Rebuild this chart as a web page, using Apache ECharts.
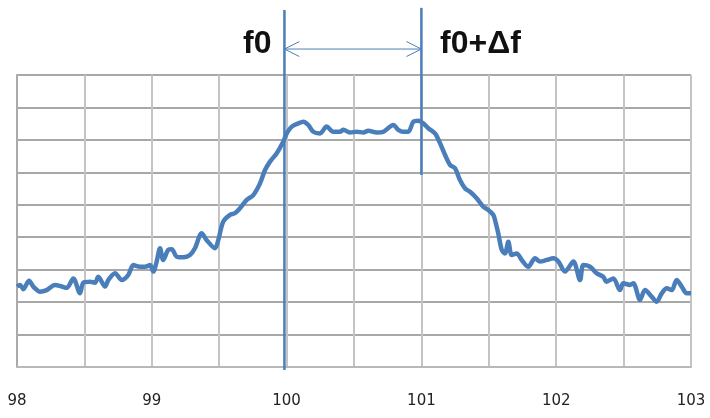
<!DOCTYPE html>
<html><head><meta charset="utf-8">
<script src="https://cdn.jsdelivr.net/npm/echarts@6/dist/echarts.min.js"></script>
<style>html,body{margin:0;padding:0;background:#fff}#c{width:710px;height:418px}</style>
</head><body><div id="c"></div>
<script>
const xTicks = [98, 99, 100, 101, 102, 103];
const freq = [98.000,98.022,98.047,98.089,98.121,98.171,98.220,98.282,98.332,98.369,98.418,98.467,98.492,98.542,98.579,98.603,98.653,98.677,98.727,98.777,98.826,98.863,98.912,
98.950,98.987,99.011,99.036,99.061,99.085,99.122,99.148,99.185,99.234,99.283,99.320,99.370,99.407,99.469,99.493,99.530,99.580,99.617,99.654,99.704,99.753,99.803,
99.840,99.877,99.927,99.976,100.001,100.038,100.087,100.124,100.161,100.198,100.248,100.297,100.346,100.396,100.421,100.470,100.520,100.569,100.606,100.668,100.717,100.792,100.829,100.866,100.903,100.940,100.977,101.014,101.051,101.101,101.138,101.175,101.212,101.249,101.286,101.323,101.361,101.410,101.459,101.496,101.533,
101.546,101.570,101.596,101.620,101.645,101.670,101.707,101.744,101.793,101.843,101.880,101.930,101.979,102.016,102.065,102.127,102.177,102.201,102.251,102.300,102.349,102.374,102.424,102.473,102.498,102.547,102.572,102.622,102.659,102.708,102.745,102.783,102.820,102.857,102.894,102.931,102.968,103.000];
const level = [2.48,2.53,2.40,2.66,2.48,2.32,2.37,2.53,2.48,2.44,2.73,2.27,2.60,2.63,2.60,2.78,2.48,2.68,2.89,2.68,2.84,3.14,3.09,
3.09,3.14,2.94,3.25,3.66,3.30,3.61,3.63,3.40,3.38,3.45,3.66,4.12,3.91,3.66,3.91,4.48,4.69,4.74,4.89,5.15,5.30,5.66,
6.07,6.33,6.59,6.95,7.20,7.41,7.51,7.56,7.46,7.25,7.20,7.41,7.25,7.25,7.31,7.23,7.25,7.23,7.28,7.23,7.25,7.46,7.31,7.25,7.25,7.56,7.59,7.51,7.36,7.20,6.90,6.54,6.23,6.13,5.76,5.51,5.40,5.20,4.94,4.84,4.69,
4.53,4.12,3.61,3.50,3.86,3.45,3.50,3.30,3.09,3.35,3.25,3.30,3.35,3.25,2.94,3.25,2.68,3.14,3.09,2.89,2.78,2.63,2.73,2.37,2.58,2.53,2.58,2.07,2.37,2.17,2.01,2.27,2.43,2.37,2.68,2.48,2.27,2.27];
const f0 = 99.984;
const f1 = 101.0;
const f0Line = [11.0, -0.09];
const f1Line = [11.07, 5.92];
const arrowY = 9.80;
const headDx = 0.111, headDy = 0.231;

const blue = '#4a7ebb';
const chart = echarts.init(document.getElementById('c'));
const annot = (data, w) => ({type:'line', data, symbol:'none', clip:false, silent:true, animation:false,
  lineStyle:{color:blue, width:w}, z:5});
chart.setOption({
  animation:false,
  grid:{left:17, right:19, top:75, bottom:51},
  xAxis:{type:'value', min:98, max:103, interval:0.5,
    axisLine:{show:true, lineStyle:{color:'#b8b8b8', width:2}},
    axisTick:{show:false},
    splitLine:{show:true, lineStyle:{color:'#c4c4c4', width:2}},
    axisLabel:{margin:27, fontFamily:'DejaVu Sans', fontSize:15, color:'#222',
      formatter:v => xTicks.includes(v) ? String(v) : ''}},
  yAxis:{type:'value', min:0, max:9, interval:1,
    axisLine:{show:true, lineStyle:{color:'#aaaaaa', width:2}},
    axisTick:{show:false}, axisLabel:{show:false},
    splitLine:{show:true, lineStyle:{color:'#a8a8a8', width:2}}},
  series:[
    {type:'line', data:freq.map((x,i)=>[x, level[i]]), symbol:'none', smooth:0.3,
      lineStyle:{color:blue, width:4.5}, z:4},
    annot([[f0, f0Line[0]],[f0, f0Line[1]]], 2.5),
    annot([[f1, f1Line[0]],[f1, f1Line[1]]], 2.5),
    annot([[f0, arrowY],[f1, arrowY]], 1),
    annot([[f0+headDx, arrowY+headDy],[f0, arrowY],[f0+headDx, arrowY-headDy]], 1),
    annot([[f1-headDx, arrowY+headDy],[f1, arrowY],[f1-headDx, arrowY-headDy]], 1)
  ],
  graphic:[
    {type:'text', left:243, top:28, style:{text:'f0', font:'bold 32px "Liberation Sans"', fill:'#111'}},
    {type:'text', left:440, top:28, style:{text:'f0+Δf', font:'bold 32px "Liberation Sans"', fill:'#111'}}
  ]
});
</script></body></html>
